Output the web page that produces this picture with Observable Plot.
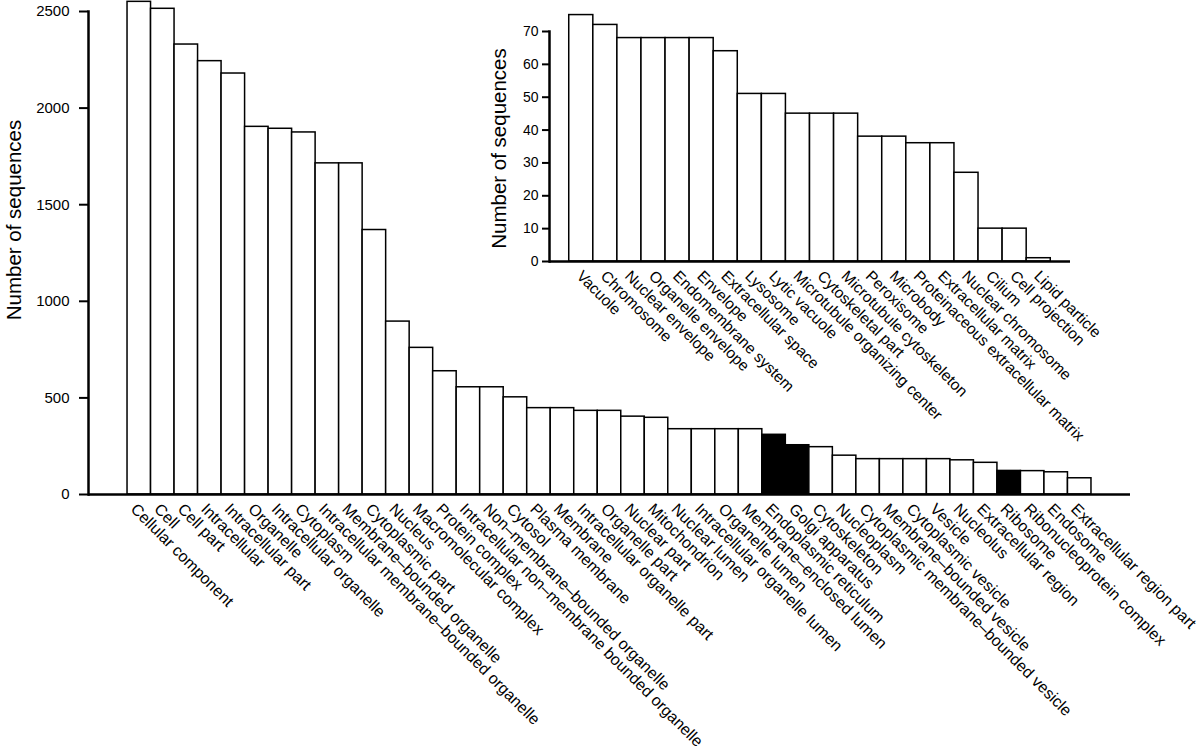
<!DOCTYPE html>
<html>
<head>
<meta charset="utf-8">
<script src="https://cdn.jsdelivr.net/npm/d3@7"></script>
<script src="https://cdn.jsdelivr.net/npm/@observablehq/plot@0.6"></script>
<style>
  html, body { margin: 0; padding: 0; background: white; }
  #wrap { position: relative; width: 1200px; height: 752px; overflow: hidden; }
  #wrap svg { position: absolute; left: 0; top: 0; }
</style>
</head>
<body>
<div id="wrap"></div>
<script>
// Main chart: categories and values
const mainCategories = [
  "Cellular component", "Cell", "Cell part", "Intracellular", "Intracellular part",
  "Organelle", "Intracellular organelle", "Cytoplasm",
  "Intracellular membrane–bounded organelle", "Membrane–bounded organelle",
  "Cytoplasmic part", "Nucleus", "Macromolecular complex", "Protein complex",
  "Intracellular non–membrane bounded organelle", "Non–membrane–bounded organelle",
  "Cytosol", "Plasma membrane", "Membrane", "Intracellular organelle part",
  "Organelle part", "Nuclear part", "Mitochondrion", "Nuclear lumen",
  "Intracellular organelle lumen", "Organelle lumen", "Membrane–enclosed lumen",
  "Endoplasmic reticulum", "Golgi apparatus", "Cytoskeleton", "Nucleoplasm",
  "Cytoplasmic membrane–bounded vesicle", "Membrane–bounded vesicle",
  "Cytoplasmic vesicle", "Vesicle", "Nucleolus", "Extracellular region",
  "Ribosome", "Ribonucleoprotein complex", "Endosome", "Extracellular region part"
];
const mainValues = [
  2550, 2514, 2329, 2243, 2179,
  1903, 1893, 1874,
  1714, 1714,
  1369, 895, 759, 638,
  555, 555,
  503, 447, 447, 433,
  433, 403, 397, 338,
  338, 338, 338,
  309, 255, 245, 201,
  183, 183,
  183, 183, 177, 164,
  122, 121, 115, 84
];
const highlighted = ["Endoplasmic reticulum", "Golgi apparatus", "Ribosome"];
const mainTicks = [0, 500, 1000, 1500, 2000, 2500];

// Inset chart
const insetCategories = [
  "Vacuole", "Chromosome", "Nuclear envelope", "Organelle envelope",
  "Endomembrane system", "Envelope", "Extracellular space", "Lysosome",
  "Lytic vacuole", "Microtubule organizing center", "Cytoskeletal part",
  "Microtubule cytoskeleton", "Peroxisome", "Microbody",
  "Proteinaceous extracellular matrix", "Extracellular matrix",
  "Nuclear chromosome", "Cilium", "Cell projection", "Lipid particle"
];
const insetValues = [75, 72, 68, 68, 68, 68, 64, 51, 51, 45, 45, 45, 38, 38, 36, 36, 27, 10, 10, 1];
const insetTicks = [0, 10, 20, 30, 40, 50, 60, 70];

const yLabel = "Number of sequences";
const FONT = "'Liberation Sans', Arial, Helvetica, sans-serif";

const mainData = mainCategories.map((name, i) => ({name, value: mainValues[i], dark: highlighted.includes(name)}));
const insetData = insetCategories.map((name, i) => ({name, value: insetValues[i]}));

const mainPlot = Plot.plot({
  width: 1200,
  height: 752,
  marginLeft: 88,
  marginRight: 70,
  marginTop: 11,
  marginBottom: 258,
  style: {fontFamily: FONT, background: "transparent", overflow: "visible", color: "black"},
  x: {domain: mainCategories, paddingInner: 0, paddingOuter: 1.66, round: false, axis: null},
  y: {domain: [0, 2500], axis: null},
  marks: [
    Plot.barY(mainData, {x: "name", y: "value", fill: d => d.dark ? "black" : "white", stroke: "black", strokeWidth: 1.5}),
    Plot.ruleY([0], {stroke: "black", strokeWidth: 2.5}),
    Plot.frame({anchor: "left", stroke: "black", strokeWidth: 2.5}),
    Plot.axisY({ticks: mainTicks, tickFormat: d => String(d), tickSize: 9, tickPadding: 10, fontSize: 15, strokeWidth: 2, label: null}),
    Plot.text(mainData, {x: "name", text: "name", frameAnchor: "bottom", rotate: 45, textAnchor: "start", lineAnchor: "middle", dx: -6, dy: 12, fontSize: 16}),
    Plot.text([yLabel], {text: d => d, frameAnchor: "left", textAnchor: "middle", lineAnchor: "middle", rotate: -90, dx: -74, dy: -33, fontSize: 20.5})
  ]
});

const insetPlot = Plot.plot({
  width: 1200,
  height: 752,
  marginLeft: 549,
  marginRight: 130,
  marginTop: 31,
  marginBottom: 491,
  style: {fontFamily: FONT, background: "transparent", overflow: "visible", color: "black"},
  x: {domain: insetCategories, paddingInner: 0, paddingOuter: 0.82, round: false, axis: null},
  y: {domain: [0, 70], axis: null},
  marks: [
    Plot.barY(insetData, {x: "name", y: "value", fill: "white", stroke: "black", strokeWidth: 1.5}),
    Plot.ruleY([0], {stroke: "black", strokeWidth: 2.5}),
    Plot.frame({anchor: "left", stroke: "black", strokeWidth: 2.5}),
    Plot.axisY({ticks: insetTicks, tickFormat: d => String(d), tickSize: 7, tickPadding: 4, fontSize: 14, strokeWidth: 2, label: null}),
    Plot.text(insetData, {x: "name", text: "name", frameAnchor: "bottom", rotate: 45, textAnchor: "start", lineAnchor: "middle", dx: -2, dy: 12, fontSize: 15.5}),
    Plot.text([yLabel], {text: d => d, frameAnchor: "left", textAnchor: "middle", lineAnchor: "middle", rotate: -90, dx: -50, dy: 2, fontSize: 20.5})
  ]
});

const wrap = document.getElementById("wrap");
wrap.appendChild(mainPlot);
wrap.appendChild(insetPlot);
</script>
</body>
</html>
